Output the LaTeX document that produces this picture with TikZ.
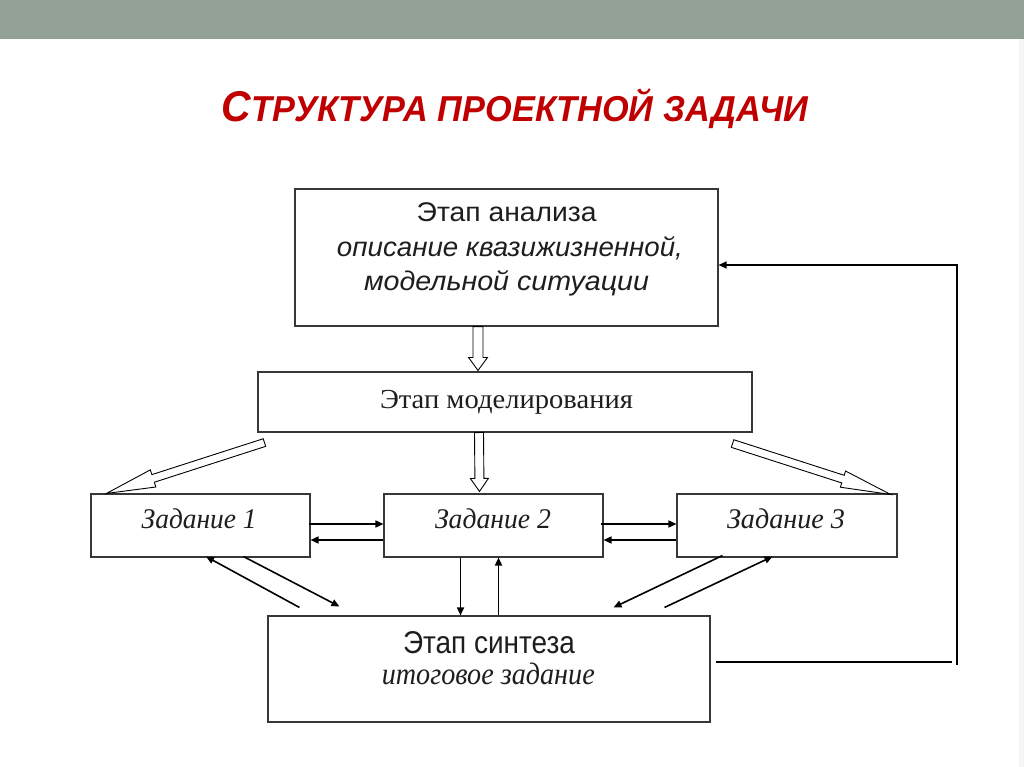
\documentclass[tikz,border=0pt]{standalone}
\usepackage{fontspec}
\usepackage{graphicx}
\setmainfont{Liberation Serif}
\setsansfont{Liberation Sans}
\usetikzlibrary{calc,arrows.meta}
\definecolor{barc}{RGB}{146,160,150}
\definecolor{titlec}{RGB}{192,0,0}
\definecolor{linec}{RGB}{55,55,55}
\definecolor{txtc}{RGB}{30,30,30}
\newcommand\fitw[2]{\resizebox{#1pt}{\height}{#2}}
\newcommand\fsz[1]{\fontsize{#1pt}{#1pt}\selectfont}
% hollow block arrow: start, tip, half shaft, half head, head length
\newcommand\harrow[5]{%
  \path ($(#2)!#5!(#1)$) coordinate (hb);
  \draw[hollow] ($(#1)!#3!90:(#2)$) -- ($(hb)!#3!90:(#2)$) -- ($(hb)!#4!90:(#2)$)
    -- (#2) -- ($(hb)!#4!-90:(#2)$) -- ($(hb)!#3!-90:(#2)$) -- ($(#1)!#3!-90:(#2)$) -- cycle;
}
\begin{document}
\begin{tikzpicture}[x=1pt,y=-1pt,
  box/.style={draw=linec,line width=1.1pt,inner sep=0pt,rectangle},
  txt/.style={inner sep=0pt,anchor=base,text=txtc},
  hollow/.style={draw=black,line width=0.9pt,fill=white,line join=miter},
  arr/.style={draw=black,line width=1.6pt,-{Triangle[length=8pt,width=7pt]}},
  plainline/.style={draw=black,line width=1.3pt}]
\useasboundingbox (0,0) rectangle (1024,767);
\fill[white] (0,0) rectangle (1024,767);
\fill[barc] (0,0) rectangle (1024,39);
\fill[black!4] (1019,39) rectangle (1024,767);

% title
\node[txt,text=titlec] (title) at (515,122)
  {\sffamily\bfseries\itshape\fitw{586}{{\fsz{43}С}{\fsz{36}ТРУКТУРА ПРОЕКТНОЙ ЗАДАЧИ}}};

% boxes
\node[box,minimum width=423pt,minimum height=137pt] (A) at (506.5,257.5) {};
\node[box,minimum width=494pt,minimum height=60pt] (B) at (505,402) {};
\node[box,minimum width=219pt,minimum height=63pt] (Z1) at (200.5,525.5) {};
\node[box,minimum width=219pt,minimum height=63pt] (Z2) at (493.5,525.5) {};
\node[box,minimum width=220pt,minimum height=63pt] (Z3) at (787,525.5) {};
\node[box,minimum width=442pt,minimum height=106pt] (S) at (489,669) {};

% texts
\node[txt] (tA1) at (506.7,222) {\sffamily\fsz{27}\fitw{180}{Этап анализа}};
\node[txt] (tA2) at (510,256.5) {\sffamily\itshape\fsz{27}\fitw{346}{описание квазижизненной,}};
\node[txt] (tA3) at (506.5,290) {\sffamily\itshape\fsz{27}\fitw{285}{модельной ситуации}};
\node[txt] (tB) at (506.5,408) {\rmfamily\fsz{27.5}\fitw{253}{Этап моделирования}};
\node[txt] (tZ1) at (199.2,528) {\rmfamily\itshape\fsz{28.5}\fitw{115}{Задание 1}};
\node[txt] (tZ2) at (493,528) {\rmfamily\itshape\fsz{28.5}\fitw{116}{Задание 2}};
\node[txt] (tZ3) at (786,528) {\rmfamily\itshape\fsz{28.5}\fitw{118}{Задание 3}};
\node[txt] (tS1) at (489,653) {\sffamily\fsz{31.5}\fitw{172}{Этап синтеза}};
\node[txt] (tS2) at (488.3,684.5) {\rmfamily\itshape\fsz{31}\fitw{213}{итоговое задание}};

% hollow arrows
\coordinate (h1a) at ($(A.south)+(-28.5,0)$);
\coordinate (h1b) at ($(B.north)+(-27,-1)$);
\harrow{h1a}{h1b}{5pt}{9.5pt}{13pt}
\coordinate (h2a) at ($(B.south)+(-26,0)$);
\coordinate (h2b) at ($(Z2.north)+(-14,-2)$);
\harrow{h2a}{h2b}{4.5pt}{9pt}{13pt}
\coordinate (h3a) at ($(B.south west)+(7,10)$);
\coordinate (h3b) at ($(Z1.north west)+(16,0)$);
\harrow{h3a}{h3b}{4pt}{9pt}{49pt}
\coordinate (h4a) at ($(B.south east)+(-20,11)$);
\coordinate (h4b) at ($(Z3.north east)+(-7,1)$);
\harrow{h4a}{h4b}{4pt}{8.5pt}{50pt}

% horizontal thin arrows
\draw[arr] ($(Z1.east)+(-2,-1.5)$) -- ($(Z2.west)+(0,-1.5)$);
\draw[arr] ($(Z2.west)+(0,14.5)$) -- ($(Z1.east)+(0,14.5)$);
\draw[arr] ($(Z2.east)+(-3,-1.5)$) -- ($(Z3.west)+(0,-1.5)$);
\draw[arr] ($(Z3.west)+(0,14.5)$) -- ($(Z2.east)+(0,14.5)$);

% vertical thin arrows
\coordinate (v1a) at ($(Z2.south)+(-33,0)$);
\coordinate (v2b) at ($(Z2.south)+(5,0)$);
\draw[arr] (v1a) -- (v1a |- S.north);
\draw[arr] (v2b |- S.north) -- (v2b);

% diagonal thin arrows
\coordinate (d1a) at ($(S.north west)+(32,-8)$);
\coordinate (d1b) at ($(Z1.south)+(5.5,-1)$);
\draw[arr] (d1a) -- (d1b);
\coordinate (d2a) at ($(Z1.south)+(43,-1)$);
\coordinate (d2b) at ($(S.north west)+(72,-9)$);
\draw[arr] (d2a) -- (d2b);
\coordinate (d3a) at ($(Z3.south west)+(46,-2)$);
\coordinate (d3b) at ($(S.north east)+(-97,-8)$);
\draw[arr] (d3a) -- (d3b);
\coordinate (d4a) at ($(S.north east)+(-46,-8)$);
\coordinate (d4b) at ($(Z3.south west)+(96,-1)$);
\draw[arr] (d4a) -- (d4b);

% feedback loop
\coordinate (f1) at ($(S.east)+(5,-7)$);
\coordinate (f2) at (952,662);
\coordinate (f3) at (957,665);
\coordinate (f4) at (957,265);
\coordinate (f5) at ($(A.east)+(0,7.5)$);
\draw[plainline] (f1) -- (f2);
\draw[arr,line width=1.3pt] (f3) -- (f4) -- (f5);
\end{tikzpicture}
\end{document}
